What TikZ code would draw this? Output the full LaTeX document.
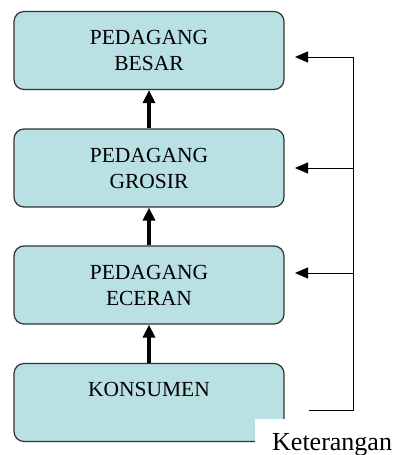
\documentclass[tikz,border=0pt]{standalone}
\usepackage{fontspec}
\setmainfont{Liberation Serif}
\usetikzlibrary{arrows.meta}
\definecolor{boxfill}{HTML}{B9E0E3}
\definecolor{boxline}{HTML}{333333}
\tikzset{
  box/.style={draw=boxline, line width=1.2pt, fill=boxfill, rounded corners=10pt,
    minimum width=270pt, minimum height=78pt, inner sep=0pt, align=center,
    font=\fontsize{21.5}{26}\selectfont},
  thick arrow/.style={line width=3.6pt, -{Triangle[length=13pt,width=12pt]}},
  thin line/.style={line width=1pt, draw=black},
  thin arrow/.style={line width=1pt, -{Triangle[length=13pt,width=11pt]}}
}
\begin{document}
\begin{tikzpicture}[x=1pt,y=-1pt]
\useasboundingbox (0,0) rectangle (400,455);
\node[box] (b1) at (149,50.5) {PEDAGANG\\BESAR};
\node[box] (b2) at (149,168) {PEDAGANG\\GROSIR};
\node[box] (b3) at (149,285) {PEDAGANG\\ECERAN};
\node[box] (b4) at (149,402.5) {KONSUMEN\\\phantom{KONSUMEN}};
\draw[thick arrow] (b2.north) -- (b1.south);
\draw[thick arrow] (b3.north) -- (b2.south);
\draw[thick arrow] (b4.north) -- (b3.south);
% white cover with label
\fill[white] (255,419) rectangle (400,455);
\node[anchor=base west, inner sep=0pt, font=\fontsize{26}{30}\selectfont] (ket) at (272,450) {Keterangan};
% feedback lines
\coordinate (f0) at (309,410);
\coordinate (fc) at (353,410);
\coordinate (j1) at (353,57);
\coordinate (j2) at (353,168);
\coordinate (j3) at (353,273);
\coordinate (t1) at (295,57);
\coordinate (t2) at (295,168);
\coordinate (t3) at (295,273);
\draw[thin line] (f0) -- (fc) -- (j1);
\draw[thin arrow] (j1) -- (t1);
\draw[thin arrow] (j2) -- (t2);
\draw[thin arrow] (j3) -- (t3);
\end{tikzpicture}
\end{document}
